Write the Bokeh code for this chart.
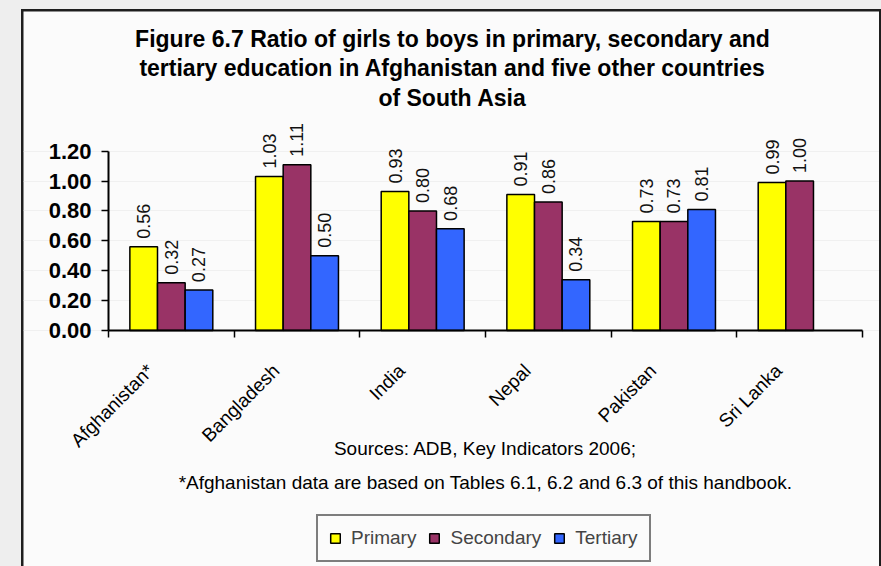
import math
from bokeh.plotting import figure
from bokeh.models import (ColumnDataSource, Range1d, LinearAxis, FixedTicker,
                          LabelSet, Label, Legend, LegendItem, PrintfTickFormatter, LinearScale)
from bokeh.core.properties import value
from bokeh.transform import dodge
from bokeh.layouts import column
from bokeh.embed import file_html
from bokeh.resources import INLINE

# ---------------- data ----------------
countries = ["Afghanistan*", "Bangladesh", "India", "Nepal", "Pakistan", "Sri Lanka"]
primary = [0.56, 1.03, 0.93, 0.91, 0.73, 0.99]
secondary = [0.32, 1.11, 0.80, 0.86, 0.73, 1.00]
tertiary = [0.27, 0.50, 0.68, 0.34, 0.81, None]
series_names = ["Primary", "Secondary", "Tertiary"]
series_colors = ["#FFFF00", "#993366", "#3366FF"]
y_ticks = [0.0, 0.2, 0.4, 0.6, 0.8, 1.0, 1.2]
title_lines = [
    "Figure 6.7 Ratio of girls to boys in primary, secondary and",
    "tertiary education in Afghanistan and five other countries",
    "of South Asia",
]
source_note = "Sources: ADB, Key Indicators 2006;"
foot_note = "*Afghanistan data are based on Tables 6.1, 6.2 and 6.3 of this handbook."

FONT = "Liberation Sans"
n = len(countries)
series_values = [primary, secondary, tertiary]
offsets = [-0.22, 0.0, 0.22]
bar_w = 0.22
xpos = [i + 0.5 for i in range(n)]  # category centres on the linear category scale

src = ColumnDataSource(dict(
    xpos=xpos,
    primary=primary,
    secondary=secondary,
    tertiary=[float("nan") if v is None else v for v in tertiary],
))

CHART_BG = "#fbfbfb"
# one frame covers the whole chart area so that nothing outside the axes is clipped
X0, X1 = -0.6764, n + 0.1353
p = figure(x_range=Range1d(X0, X1), y_range=Range1d(-1.58, 2.135),
           width=856, height=555, output_backend="svg", toolbar_location=None,
           min_border_left=0, min_border_right=0, min_border_top=0, min_border_bottom=0,
           background_fill_color=CHART_BG, border_fill_color=CHART_BG,
           outline_line_color=None, margin=(2, 2, 0, 2))

renderers = []
keys = ["primary", "secondary", "tertiary"]
for key, color, off in zip(keys, series_colors, offsets):
    r = p.vbar(x=dodge("xpos", off), top=key, width=bar_w, source=src,
               fill_color=color, line_color="black", line_width=1.5)
    renderers.append(r)

# value labels
for vals, off in zip(series_values, offsets):
    xs = [x for x, v in zip(xpos, vals) if v is not None]
    ys = [v for v in vals if v is not None]
    ts = ["%.2f" % v for v in ys]
    ls = ColumnDataSource(dict(xpos=xs, val=ys, txt=ts))
    p.add_layout(LabelSet(x=dodge("xpos", off), y="val", text="txt",
                          source=ls, angle=math.pi / 2, text_align="left",
                          text_baseline="middle", y_offset=8,
                          text_font=value(FONT), text_font_size="18px",
                          text_color="#111111"))

# y axis, drawn at x = 0
p.yaxis.fixed_location = 0
p.yaxis.ticker = FixedTicker(ticks=y_ticks)
p.yaxis.bounds = (y_ticks[0], y_ticks[-1])
p.yaxis.formatter = PrintfTickFormatter(format="%.2f")
p.yaxis.major_label_text_font = FONT
p.yaxis.major_label_text_font_size = "22px"
p.yaxis.major_label_text_font_style = "bold"
p.yaxis.major_label_text_color = "black"
p.yaxis.major_tick_out = 7
p.yaxis.major_tick_in = 0
p.yaxis.minor_tick_line_color = None
p.yaxis.axis_line_width = 2
p.yaxis.major_tick_line_width = 1.5
p.yaxis.major_label_standoff = 10
p.xgrid.grid_line_color = None
p.ygrid.grid_line_color = "#f0f0f0"
p.ygrid.bounds = (0, n)

# x axis: ticks at category edges, drawn at y = 0, no labels
p.xaxis.fixed_location = 0
p.xaxis.bounds = (0, n)
p.xaxis.ticker = FixedTicker(ticks=list(range(n + 1)))
p.xaxis.major_label_text_color = None
p.xaxis.major_label_standoff = 0
p.xaxis.major_tick_out = 7
p.xaxis.major_tick_in = 0
p.xaxis.minor_tick_line_color = None
p.xaxis.axis_line_width = 2
p.xaxis.major_tick_line_width = 1.5

# rotated category labels
LAB_SHIFT = 0.167
p.extra_x_ranges = {"labels": Range1d(X0 + LAB_SHIFT, X1 + LAB_SHIFT)}
p.extra_x_scales = {"labels": LinearScale()}
label_axis = LinearAxis(x_range_name="labels", ticker=FixedTicker(ticks=xpos),
                        fixed_location=0,
                        major_label_overrides={x: c for x, c in zip(xpos, countries)},
                        major_label_orientation=math.pi / 4,
                        axis_line_color=None, major_tick_line_color=None,
                        major_tick_out=0, major_tick_in=0,
                        minor_tick_line_color=None, major_label_standoff=37,
                        major_label_text_font=FONT, major_label_text_font_size="19px",
                        major_label_text_color="black")
p.add_layout(label_axis, "below")

# title lines (screen units, measured from the frame's lower-left corner)
for i, t in enumerate(title_lines):
    p.add_layout(Label(x=429, y=528 - 29.5 * i, x_units="screen", y_units="screen", text=t,
                       text_align="center", text_baseline="middle", text_font=FONT,
                       text_font_size="23px", text_font_style="bold", text_color="black"))

# notes
for t, yy in [(source_note, 118), (foot_note, 84)]:
    p.add_layout(Label(x=462, y=yy, x_units="screen", y_units="screen", text=t,
                       text_align="center", text_baseline="middle", text_font=FONT,
                       text_font_size="19px", text_color="black"))

legend = Legend(items=[LegendItem(label=nm, renderers=[r]) for nm, r in zip(series_names, renderers)],
                orientation="horizontal", location=(293, 4),
                border_line_color="black", border_line_width=2,
                background_fill_color=CHART_BG, background_fill_alpha=1,
                label_text_font=FONT, label_text_font_size="19px",
                glyph_width=12, glyph_height=12, label_standoff=10, spacing=12,
                padding=11, margin=0)
p.add_layout(legend)

inner = column(p, margin=(9, 0, 0, 21), styles={"background-color": "#1e1e1e"})
outer = column(inner, styles={"background-color": "#eeeeee"})

open("out.html", "w").write(file_html(outer, INLINE))
